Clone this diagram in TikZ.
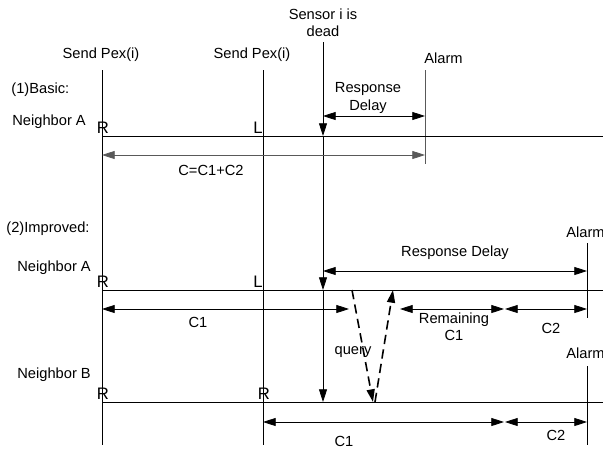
\documentclass[tikz,border=0pt]{standalone}
\usepackage{fontspec}
\setmainfont{Liberation Sans}
\usetikzlibrary{arrows.meta}

\tikzset{
  lbl/.style={inner sep=0pt, font=\fontsize{11}{13}\selectfont},
  mark lbl/.style={inner sep=0pt, font=\fontsize{12.5}{14}\selectfont},
  span/.style={{Triangle[length=9.5pt,width=6pt]}-{Triangle[length=9.5pt,width=6pt]}, line width=0.6pt},
  hit/.style={-{Triangle[length=9.5pt,width=6pt]}, line width=0.6pt},
  ask/.style={-{Triangle[length=9.5pt,width=6pt]}, line width=1.2pt, dash pattern=on 7pt off 4pt}
}

\begin{document}
\begin{tikzpicture}[x=0.75pt, y=-0.75pt, line width=0.6pt]
            \useasboundingbox (0,0) rectangle (603,450);
            % time marks
            \coordinate (p1t) at (102,70);  \coordinate (p1b) at (102,445);
            \coordinate (p2t) at (263,70);  \coordinate (p2b) at (263,445);
            \coordinate (dt)  at (323,42);
            \draw (p1t) -- (p1b);
            \draw (p2t) -- (p2b);
            \draw[gray!70!black] (425,70) -- (425,164);
            \draw (587,243) -- (587,318);
            \draw (587,366) -- (587,445);

            % neighbour time lines
            \coordinate (a1) at (323,136);
            \coordinate (a2) at (323,290);
            \coordinate (b2) at (323,402);
            \draw (102,136) -- (603,136);
            \draw (102,290) -- (603,290);
            \draw (102,402) -- (603,402);

            % sensor i is dead
            \draw[hit] (dt) -- (a1);
            \draw[hit] (a1) -- (a2);
            \draw[hit] (a2) -- (b2);

            % (1) basic
            \node[lbl, align=center] (dead) at (323,23) {Sensor i is\\dead};
            \node[lbl] (pex1) at (101,55) {Send Pex(i)};
            \node[lbl] (pex2) at (252,55) {Send Pex(i)};
            \node[lbl, anchor=west] (al1) at (424,58) {Alarm};
            \node[lbl, anchor=west] (bas) at (11,90) {(1)Basic:};
            \node[lbl, anchor=west] (nA1) at (12,122) {Neighbor A};
            \node[mark lbl] (r1) at (103,128) {R};
            \node[mark lbl, anchor=east] (l1) at (263,128) {L};
            \node[lbl, align=center] (rd1) at (368,98) {Response\\Delay};
            \draw[span] (323,116) -- (425,116);
            \draw[span, gray!70!black] (102,155) -- (425,155);
            \node[lbl] (c1) at (211,170) {C=C1+C2};

            % (2) improved
            \node[lbl, anchor=west] (imp) at (6,229) {(2)Improved:};
            \node[lbl, anchor=west] (al2) at (566,232) {Alarm};
            \node[lbl, anchor=west] (nA2) at (17,268) {Neighbor A};
            \node[mark lbl] (r2) at (103,282) {R};
            \node[mark lbl, anchor=east] (l2) at (263,282) {L};
            \node[lbl] (rd2) at (455,253) {Response Delay};
            \draw[span] (323,271) -- (587,271);
            \draw[span] (102,309) -- (349,309);
            \node[lbl] (c1a) at (198,322) {C1};
            \draw[span] (400,309) -- (504,309);
            \node[lbl, align=center] (rem) at (454,327) {Remaining\\C1};
            \draw[span] (505,309) -- (587,309);
            \node[lbl] (c2a) at (551,328) {C2};

            % query to neighbour B and back
            \coordinate (q0) at (352,290);
            \coordinate (q1) at (373,402);
            \coordinate (q2) at (375,402);
            \coordinate (q3) at (393,290);
            \draw[ask] (q0) -- (q1);
            \draw[ask] (q2) -- (q3);
            \node[lbl] (qry) at (353,352) {query};

            % neighbour B
            \node[lbl, anchor=west] (nB) at (17,375) {Neighbor B};
            \node[lbl, anchor=west] (al3) at (566,353) {Alarm};
            \node[mark lbl] (r3) at (103,394) {R};
            \node[mark lbl] (r4) at (264,394) {R};
            \draw[span] (263,422) -- (504,422);
            \node[lbl] (c1b) at (344,441) {C1};
            \draw[span] (505,422) -- (587,422);
            \node[lbl] (c2b) at (556,435) {C2};
        \end{tikzpicture}
\end{document}
